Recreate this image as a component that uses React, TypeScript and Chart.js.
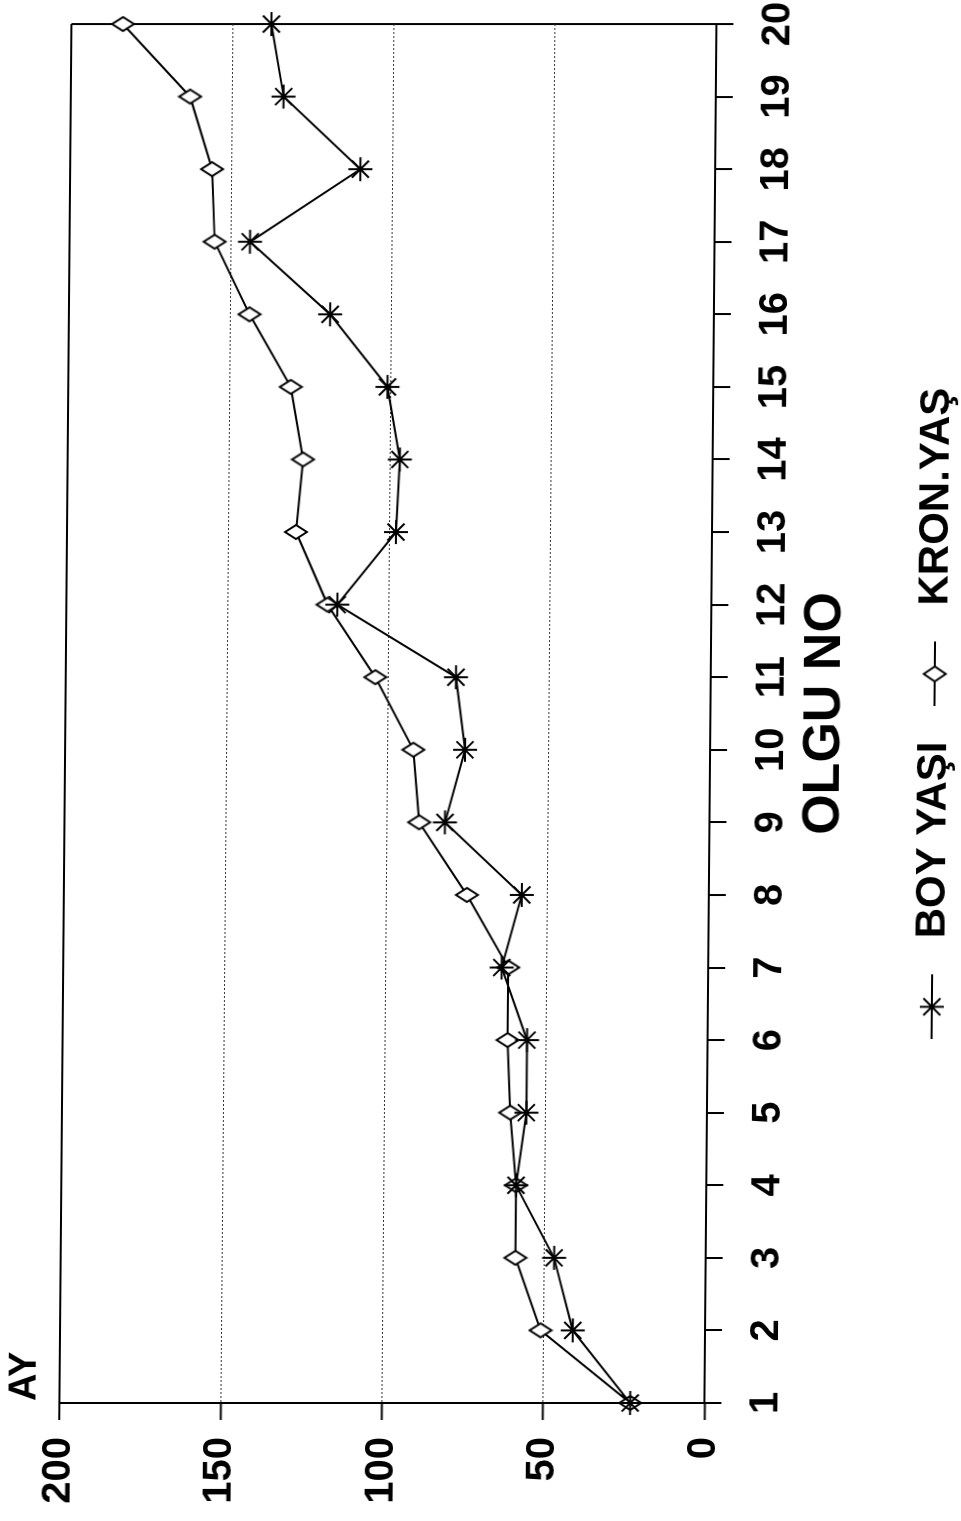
import React, { useEffect, useRef } from 'react';
import { Chart, registerables } from 'chart.js';

Chart.register(...registerables);

// ---- data ----
const olguNo = [1, 2, 3, 4, 5, 6, 7, 8, 9, 10, 11, 12, 13, 14, 15, 16, 17, 18, 19, 20];
const boyYasi = [23, 41, 47, 59, 56, 56, 64, 58, 82, 76, 79, 116, 98, 97, 101, 119, 144, 110, 134, 138];
const kronYas = [23, 51, 59, 59, 61, 62, 62, 75, 90, 92, 104, 119, 129, 127, 131, 144, 155, 156, 163, 184];
const seriesNames = ['BOY YAŞI', 'KRON.YAŞ'];
const xTitle = 'OLGU NO';
const yTitle = 'AY';
const yMin = 0;
const yMax = 200;
const yStep = 50;

const FONT = "'Liberation Sans', Arial, Helvetica, sans-serif";

function makeDiamond(w: number, h: number, lw: number) {
  const c = document.createElement('canvas');
  c.width = w + lw * 2;
  c.height = h + lw * 2;
  const g = c.getContext('2d')!;
  const cx = c.width / 2;
  const cy = c.height / 2;
  g.beginPath();
  g.moveTo(cx, cy - h / 2);
  g.lineTo(cx + w / 2, cy);
  g.lineTo(cx, cy + h / 2);
  g.lineTo(cx - w / 2, cy);
  g.closePath();
  g.fillStyle = '#fff';
  g.fill();
  g.lineWidth = lw;
  g.strokeStyle = '#000';
  g.stroke();
  return c;
}

function makeLegendSymbol(kind: 'star' | 'diamond') {
  const len = 65;
  const tail = 15;
  const c = document.createElement('canvas');
  c.width = len + tail;
  c.height = 28;
  const g = c.getContext('2d')!;
  const cy = c.height / 2;
  g.strokeStyle = '#000';
  g.lineWidth = 2;
  g.beginPath();
  g.moveTo(0, cy);
  g.lineTo(len, cy);
  g.stroke();
  const cx = len / 2;
  if (kind === 'star') {
    const r = 12;
    g.beginPath();
    for (let i = 0; i < 4; i++) {
      const a = (i * Math.PI) / 4;
      g.moveTo(cx - r * Math.cos(a), cy - r * Math.sin(a));
      g.lineTo(cx + r * Math.cos(a), cy + r * Math.sin(a));
    }
    g.stroke();
  } else {
    const d = makeDiamond(15, 22, 2);
    g.drawImage(d, cx - d.width / 2, cy - d.height / 2);
  }
  return c;
}

const ayPlugin = {
  id: 'ayLabel',
  afterDraw(chart: any) {
    const { ctx, chartArea } = chart;
    ctx.save();
    ctx.font = `bold 38px ${FONT}`;
    ctx.fillStyle = '#000';
    ctx.textAlign = 'left';
    ctx.textBaseline = 'alphabetic';
    ctx.fillText(yTitle, chartArea.left + 2, chartArea.top - 24);
    ctx.restore();
  },
};

export default function App() {
  const ref = useRef<HTMLCanvasElement>(null);

  useEffect(() => {
    const diamond = makeDiamond(14, 22, 2);
    const legStar = makeLegendSymbol('star');
    const legDiamond = makeLegendSymbol('diamond');

    const chart = new Chart(ref.current!, {
      type: 'line',
      data: {
        datasets: [
          {
            label: seriesNames[0],
            data: olguNo.map((x, i) => ({ x, y: boyYasi[i] })),
            borderColor: '#000',
            borderWidth: 2,
            pointStyle: 'star',
            pointRadius: 12,
            pointBorderColor: '#000',
            pointBackgroundColor: '#000',
            pointBorderWidth: 2,
            tension: 0,
            clip: false,
          },
          {
            label: seriesNames[1],
            data: olguNo.map((x, i) => ({ x, y: kronYas[i] })),
            borderColor: '#000',
            borderWidth: 2,
            pointStyle: diamond,
            pointRadius: 11,
            tension: 0,
            clip: false,
          },
        ],
      } as any,
      options: {
        responsive: false,
        animation: false,
        devicePixelRatio: 1,
        layout: { padding: { top: 65, right: 24, left: 0, bottom: 2 } },
        plugins: {
          tooltip: { enabled: false },
          legend: {
            position: 'bottom',
            fullSize: false,
            maxHeight: 81,
            labels: {
              usePointStyle: true,
              pointStyleWidth: 80,
              boxHeight: 28,
              padding: 35,
              color: '#000',
              font: { family: FONT, size: 42, weight: 'bold' },
              generateLabels: () => [
                { text: seriesNames[0], pointStyle: legStar, fillStyle: '#000', strokeStyle: '#000', lineWidth: 0, fontColor: '#000', hidden: false, datasetIndex: 0 },
                { text: seriesNames[1], pointStyle: legDiamond, fillStyle: '#000', strokeStyle: '#000', lineWidth: 0, fontColor: '#000', hidden: false, datasetIndex: 1 },
              ],
            },
          },
        },
        scales: {
          x: {
            type: 'linear',
            min: 1,
            max: 20,
            ticks: {
              stepSize: 1,
              autoSkip: false,
              maxRotation: 0,
              color: '#000',
              padding: 21,
              font: { family: FONT, size: 40, weight: 'bold' },
            },
            grid: {
              color: (c: any) => (c.tick && c.tick.value === 20 ? '#000' : 'rgba(0,0,0,0)'),
              lineWidth: 2,
              tickColor: '#000',
              tickWidth: 2,
              tickLength: 17,
            },
            border: { color: '#000', width: 2 },
            title: {
              display: true,
              text: xTitle,
              color: '#000',
              font: { family: FONT, size: 52, weight: 'bold' },
              padding: { top: 0, bottom: 22 },
            },
            afterFit: (s: any) => {
              s.height = 168;
              s.paddingLeft = 0;
              s.paddingRight = 0;
            },
          },
          y: {
            min: yMin,
            max: yMax,
            ticks: {
              stepSize: yStep,
              color: '#000',
              padding: 17,
              font: { family: FONT, size: 40, weight: 'bold' },
            },
            grid: {
              color: (c: any) => {
                const v = c.tick ? c.tick.value : null;
                if (v === yMax) return '#000';
                if (v === yMin) return 'rgba(0,0,0,0)';
                return '#333';
              },
              lineWidth: (c: any) => (c.tick && c.tick.value === yMax ? 2 : 1),
              tickColor: '#000',
              tickWidth: 2,
              tickLength: 17,
            },
            border: {
              color: '#000',
              width: 2,
              dash: (c: any) => (c.tick && c.tick.value !== yMax ? [2, 2] : []),
            },
            afterFit: (s: any) => {
              s.width = 118;
            },
          },
        },
      } as any,
      plugins: [ayPlugin],
    });
    return () => chart.destroy();
  }, []);

  return (
    <div style={{ position: 'absolute', left: 0, top: 0, width: 961, height: 1521, overflow: 'hidden', background: '#fff' }}>
      <div
        style={{
          position: 'absolute',
          left: -280,
          top: 280,
          width: 1521,
          height: 961,
          transformOrigin: '50% 50%',
          transform: 'skewX(-0.5deg) rotate(-90deg)',
        }}
      >
        <canvas ref={ref} width={1521} height={961} style={{ display: 'block' }} />
      </div>
    </div>
  );
}
